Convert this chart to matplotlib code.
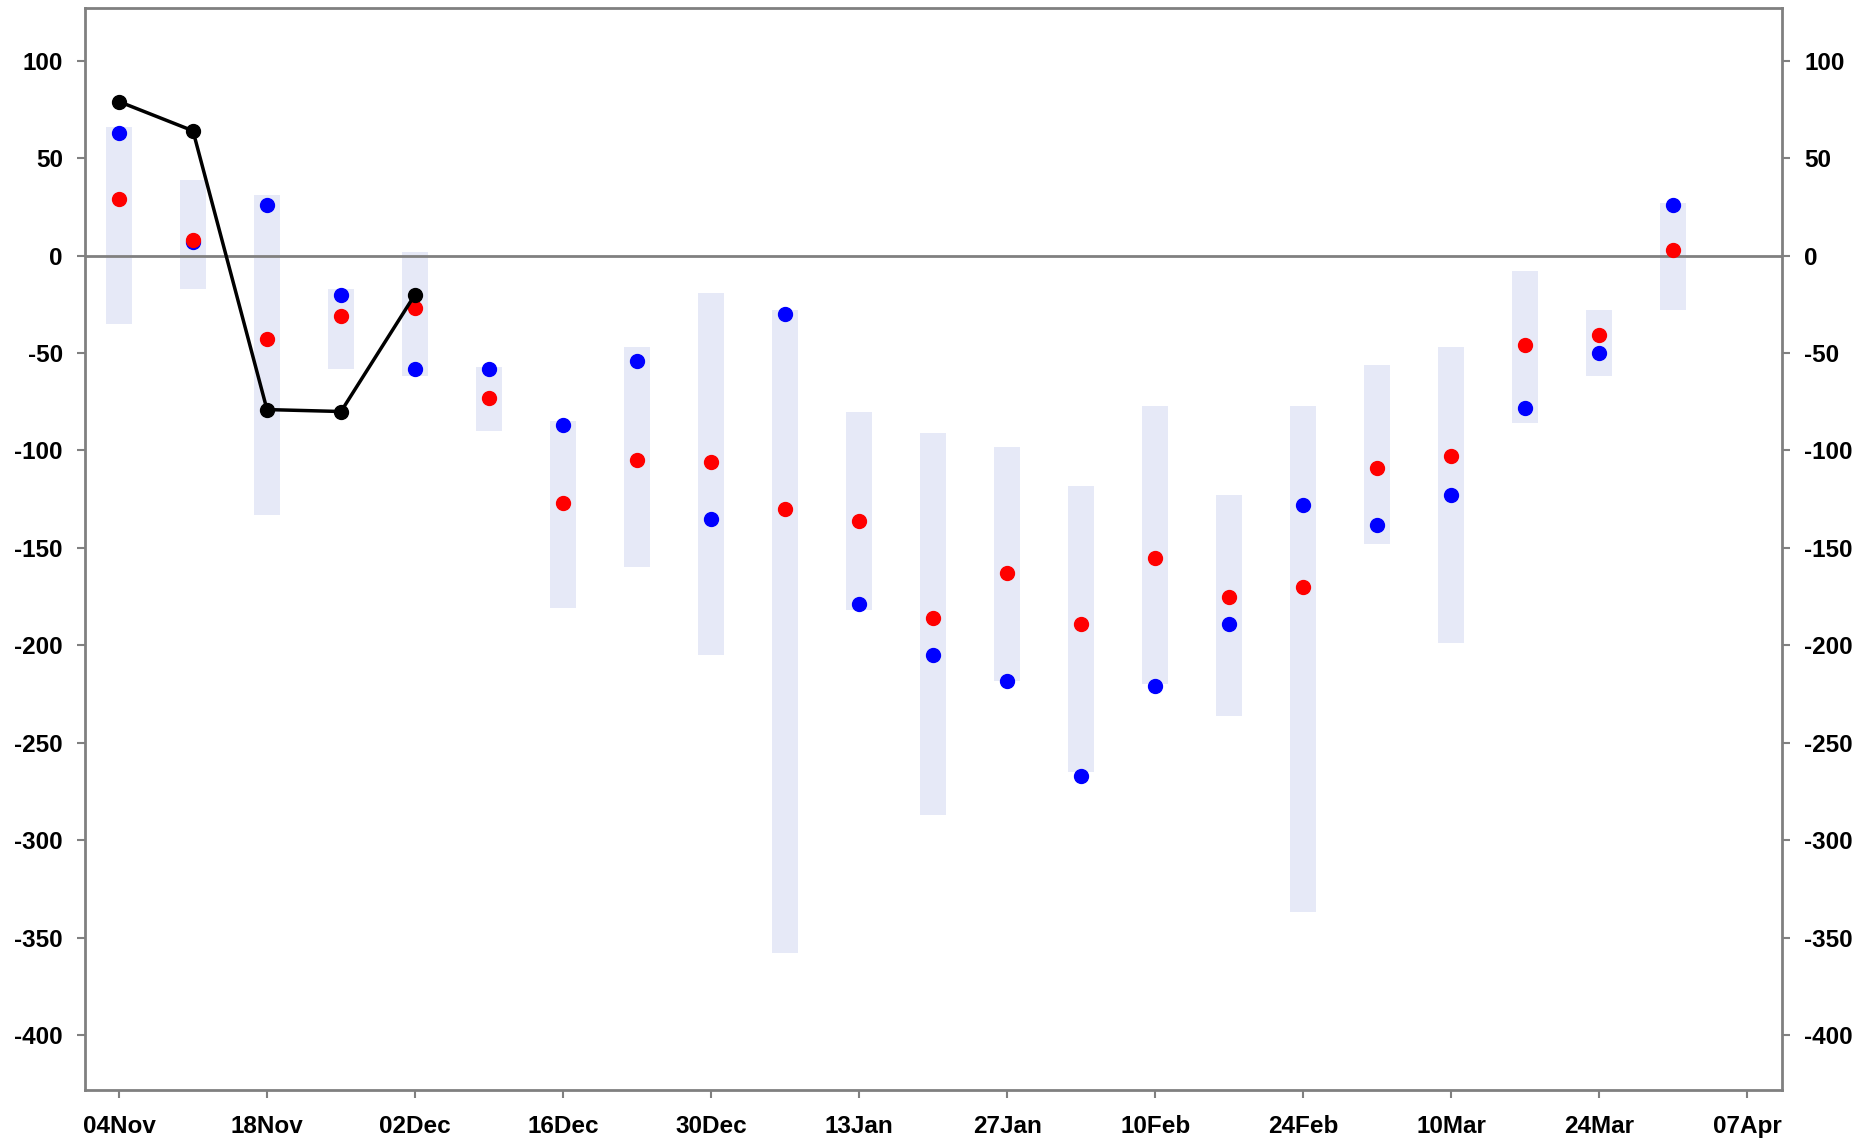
import matplotlib.pyplot as plt
import matplotlib.dates as mdates
import numpy as np
import datetime as dt

plt.rcParams['axes.unicode_minus'] = False
plt.rcParams['font.family'] = ['Liberation Sans', 'DejaVu Sans']

dates = [dt.date(2018, 11, 4) + dt.timedelta(weeks=i) for i in range(22)]
bar_top = [66, 39, 31, -17, 2, -57, -85, -47, -19, -28, -80, -91, -98, -118, -77, -123, -77, -56, -47, -8, -28, 27]
bar_bottom = [-35, -17, -133, -58, -62, -90, -181, -160, -205, -358, -182, -287, -218, -265, -220, -236, -337, -148, -199, -86, -62, -28]
blue = [63, 7, 26, -20, -58, -58, -87, -54, -135, -30, -179, -205, -218, -267, -221, -189, -128, -138, -123, -78, -50, 26]
red = [29, 8, -43, -31, -27, -73, -127, -105, -106, -130, -136, -186, -163, -189, -155, -175, -170, -109, -103, -46, -41, 3]
black = [79, 64, -79, -80, -20]

fig = plt.figure(figsize=(18.71, 11.46), dpi=100)
ax = fig.add_axes([0.0455, 0.049, 0.907, 0.944])

x = mdates.date2num(dates)
ax.bar(x, np.array(bar_top) - np.array(bar_bottom), bottom=bar_bottom, width=2.5,
       color='#e6e9f7', zorder=1)
ax.axhline(0, color='#808080', lw=2, zorder=2)
ax.plot(x[:5], black, color='black', lw=2.5, marker='o', ms=10, zorder=4)
ax.scatter(x, blue, color='blue', s=100, zorder=3)
ax.scatter(x, red, color='red', s=100, zorder=3)

ax.set_xlim(mdates.date2num(dt.date(2018, 11, 4)) - 3.2, mdates.date2num(dt.date(2019, 4, 7)) + 3.3)
ax.set_ylim(-428, 127)
ax.set_yticks(range(-400, 101, 50))
ticks = [dt.date(2018, 11, 4) + dt.timedelta(weeks=2 * i) for i in range(12)]
ax.set_xticks(mdates.date2num(ticks))
ax.set_xticklabels([t.strftime('%d%b') for t in ticks])
ax.tick_params(axis='y', which='both', left=True, right=True, labelleft=True, labelright=True, pad=10)
ax.tick_params(axis='x', pad=12)
ax.tick_params(colors='#808080', length=6, width=1.5, labelcolor='black', labelsize=17.5)
for lab in ax.get_xticklabels() + ax.get_yticklabels():
    lab.set_fontweight('bold')
for t in ax.yaxis.get_major_ticks():
    t.label2.set_fontweight('bold')
for s in ax.spines.values():
    s.set_color('#808080')
    s.set_linewidth(2)

fig.savefig('out.png')
